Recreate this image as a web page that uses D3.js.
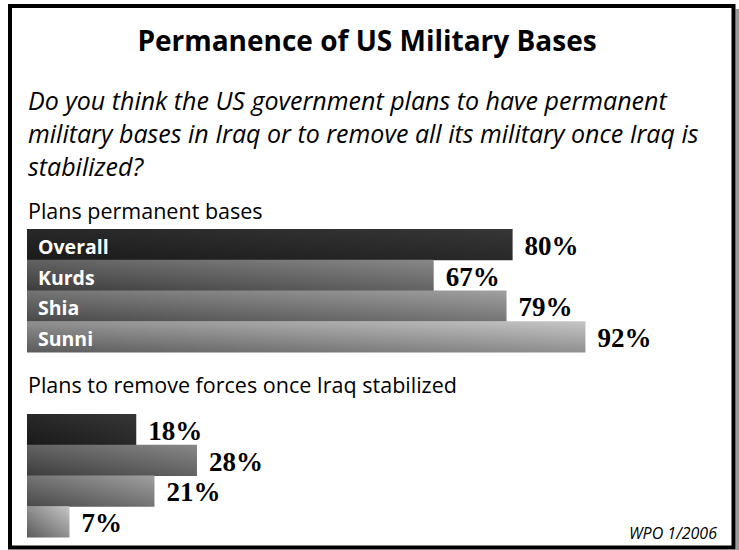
<!DOCTYPE html>
<html>
<head>
<meta charset="utf-8">
<script src="https://cdn.jsdelivr.net/npm/d3@7"></script>
<style>
  html, body { margin: 0; padding: 0; background: #fff; }
  svg { display: block; }
</style>
</head>
<body>
<script>
const title = "Permanence of US Military Bases";
const questionLines = [
  "Do you think the US government plans to have permanent",
  "military bases in Iraq or to remove all its military once Iraq is",
  "stabilized?"
];
const categories = ["Overall", "Kurds", "Shia", "Sunni"];
const section1Title = "Plans permanent bases";
const section1Values = [80, 67, 79, 92];
const section2Title = "Plans to remove forces once Iraq stabilized";
const section2Values = [18, 28, 21, 7];
const source = "WPO 1/2006";
const gradStops = [["#1a1a1a", "#363636"], ["#3c3c3c", "#888888"], ["#484848", "#a0a0a0"], ["#5a5a5a", "#c6c6c6"]];

const W = 739, H = 550;
const sansFont = "'Open Sans', Lato, sans-serif";
const svg = d3.select("body").append("svg").attr("width", W).attr("height", H);

// gradients
const defs = svg.append("defs");
categories.forEach((c, i) => {
  const g = defs.append("linearGradient").attr("id", "g" + i)
    .attr("x1", 0).attr("y1", 1).attr("x2", 1).attr("y2", 0);
  g.append("stop").attr("offset", "0%").attr("stop-color", gradStops[i][0]);
  g.append("stop").attr("offset", "100%").attr("stop-color", gradStops[i][1]);
});

// frame + shadow
svg.append("rect").attr("x", 735.5).attr("y", 9).attr("width", 3.5).attr("height", 541).attr("fill", "#9a9a9a");
svg.append("rect").attr("x", 10).attr("y", 6).attr("width", 723.5).attr("height", 541.5)
  .attr("fill", "#fff").attr("stroke", "#000").attr("stroke-width", 4);

// title
svg.append("text").attr("x", 367).attr("y", 51).attr("text-anchor", "middle")
  .attr("font-family", sansFont).attr("font-weight", "bold").attr("font-size", 28)
  .text(title);

// question
svg.append("g").selectAll("text").data(questionLines).join("text")
  .attr("x", 28).attr("y", (d, i) => 110 + i * 33)
  .attr("font-family", sansFont).attr("font-style", "italic").attr("font-size", 25)
  .text(d => d);

const x = d3.scaleLinear().domain([0, 100]).range([27, 27 + 607]);

function section(values, headY, y0, y1, showNames, headText) {
  svg.append("text").attr("x", 28).attr("y", headY)
    .attr("font-family", sansFont).attr("font-size", 21.5).text(headText);
  const y = d3.scaleBand().domain(categories).range([y0, y1]).padding(0);
  const data = categories.map((c, i) => ({ c, v: values[i], i }));
  const g = svg.append("g");
  g.selectAll("rect").data(data).join("rect")
    .attr("x", x(0)).attr("y", d => y(d.c))
    .attr("width", d => x(d.v) - x(0)).attr("height", y.bandwidth() + 0.5)
    .attr("fill", d => `url(#g${d.i})`);
  if (showNames) {
    g.selectAll("text.name").data(data).join("text").attr("class", "name")
      .attr("x", 38).attr("y", d => y(d.c) + y.bandwidth() - 6)
      .attr("fill", "#fff").attr("font-family", sansFont).attr("font-weight", "bold")
      .attr("font-size", 19.5).text(d => d.c);
  }
  g.selectAll("text.val").data(data).join("text").attr("class", "val")
    .attr("x", d => x(d.v) + 12).attr("y", d => y(d.c) + y.bandwidth() - 5)
    .attr("font-family", "'Liberation Serif', 'Times New Roman', serif").attr("font-weight", "bold")
    .attr("font-size", 27).text(d => d.v + "%");
}

section(section1Values, 219, 229, 352, true, section1Title);
section(section2Values, 393, 414, 537, false, section2Title);

svg.append("text").attr("x", 717).attr("y", 539).attr("text-anchor", "end")
  .attr("font-family", sansFont).attr("font-style", "italic").attr("font-size", 16)
  .text(source);
</script>
</body>
</html>
